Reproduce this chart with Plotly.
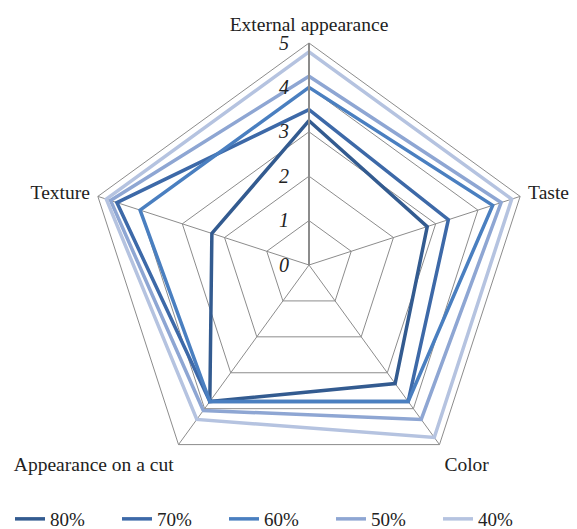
import plotly.graph_objects as go

categories = ["External appearance", "Taste", "Color", "Appearance on a cut", "Texture"]
series_names = ["80%", "70%", "60%", "50%", "40%"]
v80 = [3.25, 2.8, 3.3, 3.8, 2.3]
v70 = [3.5, 3.3, 3.8, 3.8, 4.55]
v60 = [4.0, 4.35, 3.8, 3.8, 4.0]
v50 = [4.25, 4.55, 4.3, 4.05, 4.7]
v40 = [4.8, 4.8, 4.8, 4.3, 4.8]
series_values = [v80, v70, v60, v50, v40]
colors = ["#335b90", "#3d69a8", "#4a7fc0", "#8ea6d3", "#b5c3e0"]
tick_vals = [0, 1, 2, 3, 4, 5]

W, H = 577, 529
OFF = 8  # page body margin
cx, cy, R = 309 - OFF, 265 - OFF, 222
SERIF = "Liberation Serif, Times New Roman, serif"

fig = go.Figure()
for name, vals, col in zip(series_names, series_values, colors):
    fig.add_trace(go.Scatterpolar(
        r=vals + [vals[0]],
        theta=categories + [categories[0]],
        mode="lines",
        name=name,
        line=dict(color=col, width=3.5),
    ))

fig.update_layout(
    width=W, height=H,
    paper_bgcolor="white", plot_bgcolor="white",
    margin=dict(l=0, r=0, t=0, b=0, autoexpand=False),
    font=dict(family=SERIF, size=19, color="#222"),
    polar=dict(
        bgcolor="white",
        gridshape="linear",
        domain=dict(x=[(cx - R) / W, (cx + R) / W],
                    y=[(H - cy - R) / H, (H - cy + R) / H]),
        angularaxis=dict(
            direction="clockwise", rotation=90,
            showline=True, linecolor="#8c8c8c", linewidth=1,
            gridcolor="#8c8c8c", gridwidth=1,
            ticks="outside", ticklen=4, tickcolor="rgba(0,0,0,0)",
            tickfont=dict(family=SERIF, size=19.5, color="#222"),
        ),
        radialaxis=dict(
            range=[0, 5], tickvals=tick_vals, angle=90, tickangle=90,
            side="counterclockwise",
            showline=True, linecolor="#8c8c8c", linewidth=2,
            gridcolor="#8c8c8c", gridwidth=1,
            ticks="outside", ticklen=12, tickcolor="rgba(0,0,0,0)",
            tickfont=dict(family=SERIF, size=20, color="#222", style="italic"),
            showticklabels=True,
        ),
    ),
    legend=dict(
        orientation="h", x=2 / W, xanchor="left", y=(H - (519 - OFF)) / H, yanchor="middle",
        font=dict(family=SERIF, size=19, color="#222"),
        entrywidth=62, entrywidthmode="pixels",
        bgcolor="rgba(0,0,0,0)",
    ),
)

fig.write_html("out.html")
